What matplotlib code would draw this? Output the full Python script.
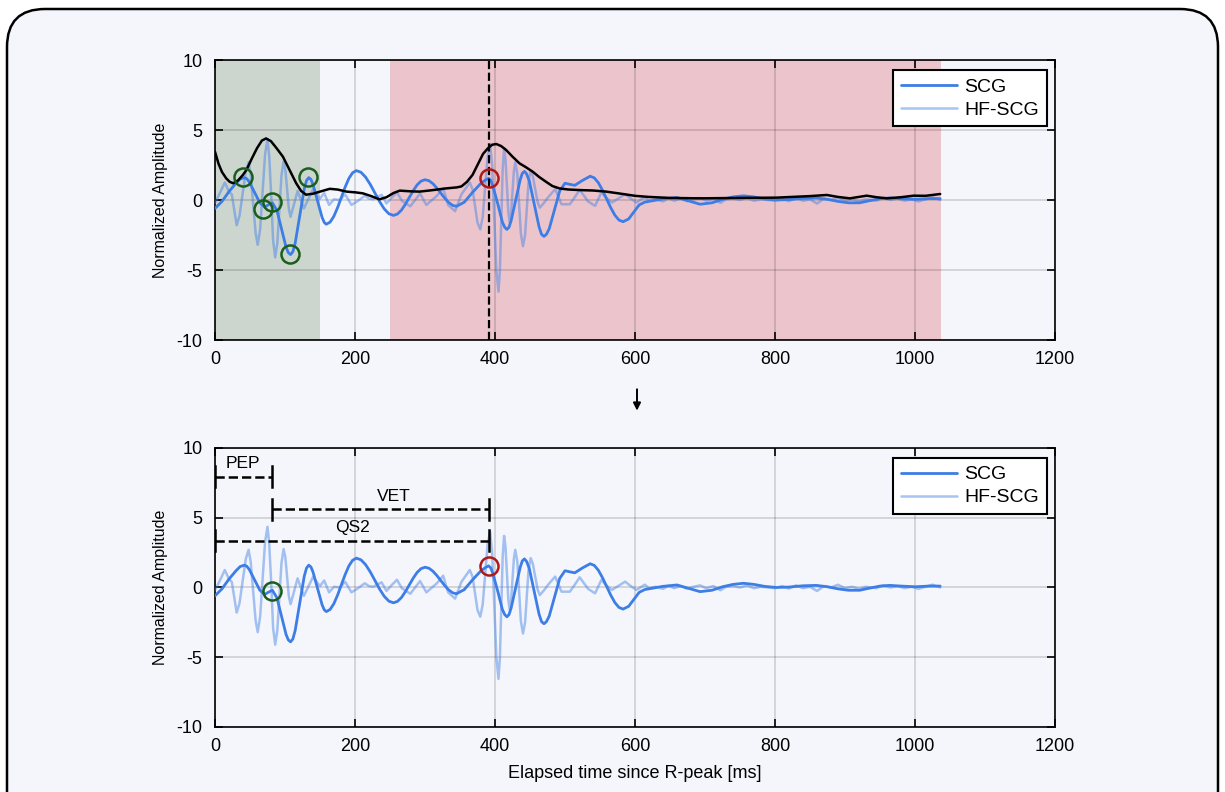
import numpy as np
import matplotlib.pyplot as plt
from matplotlib.patches import FancyBboxPatch

plt.rcParams['font.family'] = ['Liberation Sans', 'DejaVu Sans']
plt.rcParams['axes.unicode_minus'] = False

# SCG (low-frequency) signal, ms / normalized amplitude
scg_t = [0, 10, 20, 30, 36, 42, 45.5, 49, 56.5, 64, 71, 76, 82, 88.5, 95,
         101.5, 104.75, 108, 111.25, 114.5, 121, 127.5, 130.75, 134, 137.1,
         140, 146.5, 153, 156.1, 159, 164.4, 169.75, 175.1, 180.5, 185.9,
         191.25, 196.6, 202, 208.6, 215.25, 221.9, 228.5, 235.1, 241.75,
         248.4, 255, 260.6, 266.25, 271.9, 277.5, 283.1, 288.75, 294.4, 300,
         305.6, 311.25, 316.9, 322.5, 328.1, 333.75, 339.4, 345, 356, 368,
         380, 387, 391, 394, 397, 404, 410.5, 414, 417, 420, 423, 429.5,
         436, 439, 442, 445, 449, 456, 463, 466.5, 470, 473.5, 477.5, 485,
         492.5, 500, 507, 514, 525, 536, 541.9, 547.75, 553.6, 559.5, 565.4,
         571.25, 577.1, 583, 591, 598.5, 606, 614, 625, 640, 660, 676, 693,
         710, 725, 740, 755, 770, 785, 802, 820, 840, 859, 875, 890, 905,
         921, 935, 950, 964, 980, 1000, 1020, 1036]
scg_v = [-0.6, -0.1, 0.6, 1.2, 1.5, 1.6, 1.52, 1.29, 0.55, -0.19, -0.5,
         -0.35, -0.2, -0.74, -2.05, -3.36, -3.76, -3.9, -3.69, -3.1, -1.15,
         0.8, 1.39, 1.6, 1.47, 1.11, -0.07, -1.24, -1.6, -1.73, -1.58,
         -1.17, -0.55, 0.19, 0.92, 1.54, 1.95, 2.1, 1.98, 1.63, 1.11, 0.5,
         -0.11, -0.63, -0.98, -1.1, -1.0, -0.73, -0.31, 0.18, 0.66, 1.08,
         1.35, 1.45, 1.38, 1.17, 0.86, 0.5, 0.14, -0.17, -0.38, -0.45,
         -0.16, 0.55, 1.2, 1.45, 1.55, 1.4, 1.0, -0.28, -1.57, -1.95, -2.1,
         -1.95, -1.49, -0.03, 1.44, 1.9, 2.05, 1.88, 1.37, -0.28, -1.92,
         -2.45, -2.6, -2.45, -2.05, -0.7, 0.65, 1.2, 1.12, 1.05, 1.4, 1.7,
         1.58, 1.23, 0.7, 0.08, -0.55, -1.08, -1.43, -1.55, -1.35, -0.85,
         -0.35, -0.15, -0.05, 0.08, 0.18, -0.05, -0.3, -0.2, 0.05, 0.22,
         0.3, 0.22, 0.08, 0.0, 0.03, 0.12, 0.15, 0.05, -0.1, -0.2, -0.2,
         -0.05, 0.1, 0.15, 0.1, 0.05, 0.1, 0.1]

# HF-SCG (high-frequency) signal
hf_t = [0, 7, 14, 20, 24, 31, 35, 39.5, 44, 48, 51, 54.5, 58, 61, 64.5, 68,
        71.5, 75, 77.5, 80.5, 83, 86, 89, 92, 95, 98, 100.5, 103, 105.5,
        108, 118, 127, 140, 150, 156, 163, 170, 178, 186, 195, 203, 214,
        220, 226, 238, 245, 253, 260, 267, 279, 293, 302, 310, 317, 326,
        333, 343, 352, 364, 368, 371.5, 375, 379, 382.5, 386, 389.5, 393,
        396, 399, 402, 405, 407, 409, 411, 413, 415, 417, 419, 421, 423,
        425, 427, 429, 432, 434.5, 437, 440, 443, 445.5, 448, 451, 454,
        457.5, 461, 464, 470, 476, 486, 495, 507, 514, 521, 533, 543, 552,
        558, 567, 576, 586, 594, 602, 614, 620, 630, 640, 648, 656, 665,
        674, 684, 693, 702, 712, 722, 730, 740, 750, 760, 770, 780, 790,
        800, 810, 820, 830, 840, 850, 860, 870, 880, 890, 900, 910, 920,
        930, 945, 955, 965, 975, 985, 995, 1005, 1015, 1025, 1036]
hf_v = [-0.2, 0.5, 1.25, 0.6, 0.4, -1.8, -1.14, 0.45, 2.04, 2.7, 1.84,
        -0.25, -2.34, -3.2, -2.1, 0.58, 3.25, 4.35, 3.12, 0.13, -2.87,
        -4.1, -3.1, -0.68, 1.75, 2.75, 2.17, 0.78, -0.62, -1.2, 0.65,
        -0.6, 0.75, 0.1, 0.5, -0.35, 0.05, 0.0, 0.4, -0.35, -0.1, 0.3,
        0.1, 0.05, 0.37, -0.25, 0.2, 0.55, -0.06, -0.45, 0.46, -0.35, 0.0,
        0.3, 0.84, -0.35, -0.8, 0.4, 1.25, 0.76, -0.43, -1.61, -2.1, -1.21,
        0.95, 3.11, 4.0, 2.46, -1.28, -5.01, -6.55, -5.05, -1.43, 2.2, 3.7,
        2.93, 1.05, -0.83, -1.6, -0.97, 0.55, 2.07, 2.7, 1.82, -0.3, -2.42,
        -3.3, -2.51, -0.6, 1.31, 2.1, 1.71, 0.78, -0.16, -0.55, -0.2, 0.2,
        0.78, -0.3, -0.3, 0.2, 0.73, -0.1, -0.42, 0.54, 0.2, -0.18, 0.1,
        0.42, 0.1, -0.18, 0.2, -0.05, 0.05, -0.1, 0.12, -0.05, 0.1, -0.08,
        0.05, 0.15, -0.05, 0.1, -0.2, 0.05, 0.1, 0.0, 0.15, -0.05, 0.05,
        0.0, -0.05, 0.1, -0.08, 0.15, -0.05, 0.05, -0.25, 0.1, 0.0, 0.2,
        -0.05, 0.05, -0.1, 0.05, -0.05, 0.15, 0.0, 0.1, -0.05, 0.05, -0.1,
        0.05, 0.2, 0.0]

# envelope of HF-SCG (top panel)
env_t = [0, 5, 10, 16, 21, 26, 33, 40, 45, 52, 60, 67, 73, 80, 88, 97, 106,
         116, 123, 130, 140, 150, 164, 175, 188, 200, 211, 222, 235, 245,
         255, 264, 280, 292, 310, 330, 345, 352, 360, 368, 376, 383, 390,
         396, 402, 409, 416, 425, 435, 444, 454, 463, 473, 482, 492, 505,
         521, 540, 559, 580, 600, 620, 650, 693, 750, 802, 850, 874, 890,
         907, 931, 945, 960, 980, 998, 1015, 1036]
env_v = [3.45, 2.6, 2.0, 1.55, 1.3, 1.2, 1.4, 1.8, 2.15, 2.9, 3.7, 4.25, 4.4,
         4.2, 3.7, 3.1, 2.2, 1.2, 0.65, 0.38, 0.45, 0.6, 0.8, 0.75, 0.6,
         0.55, 0.48, 0.3, 0.05, 0.2, 0.5, 0.67, 0.62, 0.6, 0.7, 0.83, 0.9,
         0.97, 1.3, 1.8, 2.6, 3.3, 3.7, 3.95, 4.0, 3.85, 3.57, 3.1, 2.62,
         2.35, 2.02, 1.65, 1.3, 1.0, 0.83, 0.75, 0.71, 0.68, 0.6, 0.45,
         0.3, 0.22, 0.15, 0.12, 0.15, 0.17, 0.28, 0.36, 0.22, 0.12, 0.31,
         0.2, 0.12, 0.2, 0.31, 0.3, 0.43]

# candidate points and chosen AO / AC points
cand_t = [40.5, 69, 81, 107, 133]
cand_v = [1.67, -0.64, -0.12, -3.88, 1.62]
ao_t, ao_v = 82, -0.25
ac_t, ac_v = 392, 1.55

search_ao = (0, 150)
search_ac = (250, 1037)

blue = '#3d7ee6'
bg = '#f5f6fb'

fig = plt.figure(figsize=(12.25, 7.92), dpi=100)
fig.patch.set_facecolor('white')

# rounded frame behind everything
frame = fig.add_axes([0, 0, 1, 1], zorder=-10)
frame.set_xlim(0, 1225)
frame.set_ylim(792, 0)
frame.axis('off')
frame.add_patch(FancyBboxPatch((7, 9), 1211, 830, boxstyle='round,pad=0,rounding_size=38',
                               fc=bg, ec='black', lw=1.8))


def style_axes(ax):
    ax.set_facecolor(bg)
    ax.set_xlim(0, 1200)
    ax.set_ylim(-10, 10)
    ax.set_xticks(np.arange(0, 1201, 200))
    ax.set_yticks([-10, -5, 0, 5, 10])
    ax.grid(True, color='k', alpha=0.15, lw=1.3)
    ax.tick_params(direction='in', top=True, right=True, length=6, width=1.2,
                   labelsize=13)
    ax.tick_params(axis='x', pad=8)
    ax.tick_params(axis='y', pad=9)
    for s in ax.spines.values():
        s.set_linewidth(1.2)
    ax.set_ylabel('Normalized Amplitude', fontsize=11.5, labelpad=6)


ax1 = fig.add_axes([0.1755, 0.5707, 0.6857, 0.3535])
ax2 = fig.add_axes([0.1755, 0.0821, 0.6857, 0.3523])
for ax in (ax1, ax2):
    style_axes(ax)

line_kw = dict(solid_joinstyle='round', solid_capstyle='round')

# top panel
ax1.axvspan(*search_ao, color='#cdd5cf', zorder=1, lw=0)
ax1.axvspan(*search_ac, color='#ecc5cc', zorder=1, lw=0)
ax1.plot(scg_t, scg_v, color=blue, lw=2, label='SCG', zorder=3, **line_kw)
ax1.plot(hf_t, hf_v, color=blue, lw=1.8, alpha=0.45, label='HF-SCG', zorder=3, **line_kw)
ax1.plot(env_t, env_v, color='black', lw=1.8, zorder=4, **line_kw)
ax1.axvline(ac_t, color='black', ls='--', lw=1.6, zorder=4)
ax1.plot(cand_t, cand_v, 'o', ms=13, mfc='none', mec='#1b5e1b', mew=1.8, zorder=5)
ax1.plot([ac_t], [ac_v], 'o', ms=13, mfc='none', mec='#b01818', mew=1.8, zorder=5)

# bottom panel
ax2.plot(scg_t, scg_v, color=blue, lw=2, label='SCG', zorder=3, **line_kw)
ax2.plot(hf_t, hf_v, color=blue, lw=1.8, alpha=0.45, label='HF-SCG', zorder=3, **line_kw)
ax2.plot([ao_t], [ao_v], 'o', ms=13, mfc='none', mec='#1b5e1b', mew=1.8, zorder=5)
ax2.plot([ac_t], [ac_v], 'o', ms=13, mfc='none', mec='#b01818', mew=1.8, zorder=5)


def interval(ax, t0, t1, y, label, ty, tx):
    ax.plot([t0, t1], [y, y], color='black', ls='--', lw=1.8, zorder=6)
    ax.plot([t0, t0], [y - 0.75, y + 0.75], color='black', lw=1.8, zorder=6)
    ax.plot([t1, t1], [y - 0.75, y + 0.75], color='black', lw=1.8, zorder=6)
    ax.text(tx, ty, label, ha='center', va='center', fontsize=12.5, zorder=6)


interval(ax2, 0, ao_t, 7.95, 'PEP', 8.85, 40)
interval(ax2, ao_t, ac_t, 5.6, 'VET', 6.55, 255)
interval(ax2, 0, ac_t, 3.35, 'QS2', 4.3, 197)

for ax in (ax1, ax2):
    leg = ax.legend(loc='upper right', fontsize=14, fancybox=False, framealpha=1,
                    edgecolor='black', borderpad=0.4, handlelength=2.9,
                    handletextpad=0.35, labelspacing=0.28, borderaxespad=0,
                    bbox_to_anchor=(0.99, 0.964))
    leg.get_frame().set_linewidth(1.5)

ax2.set_xlabel('Elapsed time since R-peak [ms]', fontsize=13, labelpad=7)

fig.add_artist(plt.Annotation('', xy=(0.52, 0.478), xytext=(0.52, 0.512),
                              xycoords='figure fraction',
                              arrowprops=dict(arrowstyle='-|>', color='black', lw=1.4,
                                              mutation_scale=11)))

fig.savefig('out.png', dpi=100)
